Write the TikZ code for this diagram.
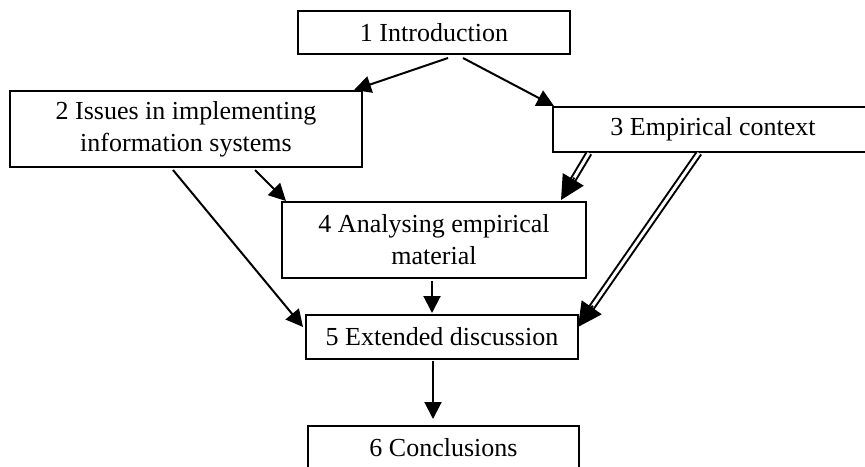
\documentclass[tikz,border=0pt]{standalone}
\usepackage{fontspec}
\setmainfont{Liberation Serif}
\usetikzlibrary{arrows.meta,calc}

\tikzset{
  box/.style={draw, line width=1pt, align=center, inner sep=0pt,
    font=\fontsize{13}{16}\selectfont},
  link/.style={line width=1pt, -{Triangle[length=8.5pt,width=8.5pt]}},
  dbl/.style={line width=1pt, double, double distance=1.5pt, shorten >=9pt},
  dbltip/.style={line width=1pt, -{Triangle[length=12pt,width=12pt]}}
}

\begin{document}
\begin{tikzpicture}[x=0.5pt, y=-0.5pt]
  \useasboundingbox (0,0) rectangle (865,466);
  \begin{scope}
  \clip (0,0) rectangle (865,466);

  % chapter boxes
  \node[box, minimum width=136pt, minimum height=21.5pt] (n1) at (434,32.5) {1 Introduction};
  \node[box, minimum width=176pt, minimum height=38pt] (n2) at (186,129)
    {2 Issues in implementing\\information systems};
  \node[box, minimum width=160pt, minimum height=22.5pt] (n3) at (713,129.5) {3 Empirical context};
  \node[box, minimum width=152pt, minimum height=38pt] (n4) at (434,240)
    {4 Analysing empirical\\material};
  \node[box, minimum width=136pt, minimum height=22pt] (n5) at (442,337) {5 Extended discussion};
  \node[box, minimum width=135.5pt, minimum height=22pt] (n6) at (443.5,448) {6 Conclusions};

  % single-line dependencies
  \draw[link] ($(n1.south)+(14,3)$) -- ($(n2.north east)+(-9,0)$);
  \draw[link] ($(n1.south)+(29,3)$) -- ($(n3.north west)+(2,0)$);
  \draw[link] ($(n2.south)+(69,2)$) -- ($(n4.north west)+(5,0)$);
  \draw[link] ($(n2.south)+(-13,2)$) -- ($(n5.north west)+(-2,13)$);
  \draw[link] ($(n4.south)+(-2,2)$) -- ($(n5.north)+(-10,-1)$);
  \draw[link] ($(n5.south)+(-9,1)$) -- ($(n6.north)+(-10.5,-6)$);

  % double-line dependencies from the empirical context
  \coordinate (d1s) at ($(n3.south west)+(37,0)$);
  \coordinate (d1e) at ($(n4.north east)+(-26,-1)$);
  \coordinate (d2s) at ($(n3.south west)+(147,0)$);
  \coordinate (d2e) at ($(n5.north east)+(-1,13)$);
  \draw[dbl] (d1s) -- (d1e);
  \draw[dbltip] ($(d1e)!13pt!(d1s)$) -- (d1e);
  \draw[dbl] (d2s) -- (d2e);
  \draw[dbltip] ($(d2e)!13pt!(d2s)$) -- (d2e);
  \end{scope}
\end{tikzpicture}
\end{document}
